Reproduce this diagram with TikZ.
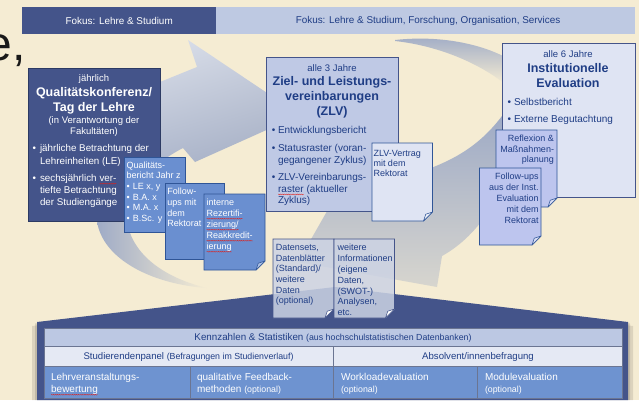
\documentclass[tikz,border=0pt]{standalone}
\usepackage{fontspec}
\setmainfont{Liberation Sans}
\usetikzlibrary{fit,shadings,decorations.pathmorphing}

\definecolor{cream}{HTML}{F5ECD3}
\definecolor{navy}{HTML}{44548A}
\definecolor{navyedge}{HTML}{2C3A63}
\definecolor{headlight}{HTML}{BEC9E2}
\definecolor{midblue}{HTML}{6A8FD0}
\definecolor{midedge}{HTML}{2F5597}
\definecolor{zlvfill}{HTML}{BFC9E5}
\definecolor{palefill}{HTML}{DFE4F3}
\definecolor{peri}{HTML}{BDC5EE}
\definecolor{txtblue}{HTML}{1F3D85}
\definecolor{rowone}{HTML}{BCC8E3}
\definecolor{rowtwo}{HTML}{E5E9F4}
\definecolor{rowthree}{HTML}{6E93D0}
\definecolor{swoosh}{HTML}{9FABC6}
\definecolor{datafill}{HTML}{CCD3E4}
\definecolor{spellred}{HTML}{E0201B}

\newcommand\fsz[2]{\fontsize{#1}{#2}\selectfont}
% word with a red spell-check squiggle below its baseline
\newcommand\spellwave[1]{\tikz[baseline=(sw.base),x=1pt,y=1pt]{%
  \node[inner sep=0pt, outer sep=0pt] (sw) {#1};
  \draw[spellred, line width=0.3pt, decorate,
        decoration={snake, amplitude=0.45pt, segment length=1.9pt}]
    ([yshift=-2.2pt]sw.base west) -- ([yshift=-2.2pt]sw.base east);}}
% card with a folded lower right corner, drawn over an empty fitted node
\newcommand\pagecard[4]{%
  \path[fill=#2, draw=#3, line width=0.7pt]
    (#1.north west) -- (#1.north east) -- ([yshift=#4]#1.south east)
    -- ([xshift=-#4]#1.south east) -- (#1.south west) -- cycle;
  \path[fill=#2!55!white, draw=#3, line width=0.6pt, line join=round]
    ([yshift=#4]#1.south east) -- ([xshift=-#4]#1.south east)
    -- ([xshift=-0.75*#4, yshift=0.75*#4]#1.south east) -- cycle;
}

\begin{document}
\begin{tikzpicture}[x=1pt,y=-1pt,
  txt/.style={inner sep=0pt, outer sep=0pt},
  frame/.style={inner sep=0pt, outer sep=0pt, line width=0.7pt},
  light/.style={txt, text=white},
  blue/.style={txt, text=txtblue},
]
\useasboundingbox (0,0) rectangle (639,400);
\fill[cream] (0,0) rectangle (639,400);

% ---- soft cycle arrows in the background ----
% left arrow: tail below the annual box
\shade[left color=swoosh, right color=cream]
  (97,221) .. controls (102,258) and (150,284) .. (207,288)
  .. controls (165,278) and (132,255) .. (127,221) -- cycle;
% left arrow: shaft and head pointing at the ZLV box
\shade[upper left=swoosh!30!white, upper right=swoosh!55!white,
       lower left=swoosh, lower right=swoosh!90!black]
  (100,221) .. controls (90,160) and (115,100) .. (160,82) -- (197,67) -- (188,40)
  -- (300,115) -- (195,162) -- (183,148) .. controls (150,165) and (130,190) .. (127,221) -- cycle;
% top arrow towards the institutional evaluation
\shade[top color=swoosh, bottom color=cream]
  (395,40) .. controls (440,35) and (480,44) .. (505,57) -- (505,84)
  .. controls (480,64) and (440,46) .. (395,41) -- cycle;
% right arrow coming down towards the data sources
\shade[top color=swoosh, bottom color=swoosh!35!cream]
  (502,116) .. controls (480,145) and (455,160) .. (420,172)
  -- (372,190) -- (338,192) -- (298,262) -- (437,287) -- (442,256)
  .. controls (480,235) and (508,190) .. (515,140) -- cycle;

% ---- slide title fragment ----
\node[txt, anchor=base east, font=\fsz{48}{50}, text=black!90] (slidetitle) at (26,60.5) {e,};

% ---- header band ----
\node[frame, fill=navy, fit={(22.4,7) (216,34)}] (focusL) {};
\node[frame, fill=headlight, fit={(216,7) (635,34)}] (focusR) {};
\node[light, font=\fsz{9.9}{12}] (focusLt) at (119.2,21) {Fokus: Lehre \& Studium};
\node[blue, font=\fsz{9.9}{12}] (focusRt) at (428,21) {Fokus: Lehre \& Studium, Forschung, Organisation, Services};

% ---- platform with data table ----
\fill[black, opacity=0.10] (32,326) -- (333,289) -- (633,326) -- (633,400) -- (32,400) -- cycle;
\fill[black, opacity=0.12] (35,323.5) -- (334,288) -- (630,323.5) -- (630,400) -- (35,400) -- cycle;
\path[fill=navy] (37,322) -- (335,287) -- (628,322) -- (628,400) -- (37,400) -- cycle;
\node[frame, fill=rowone, draw=navyedge!70, fit={(44,328) (622,346)}] (kpi) {};
\node[frame, fill=rowtwo, draw=navyedge!70, fit={(44,346) (333,366)}] (panel) {};
\node[frame, fill=rowtwo, draw=navyedge!70, fit={(333,346) (622,366)}] (alumni) {};
\node[frame, fill=rowthree, draw=navyedge!70, fit={(44,366) (190,398)}] (lvb) {};
\node[frame, fill=rowthree, draw=navyedge!70, fit={(190,366) (333,398)}] (qfb) {};
\node[frame, fill=rowthree, draw=navyedge!70, fit={(333,366) (477,398)}] (wle) {};
\node[frame, fill=rowthree, draw=navyedge!70, fit={(477,366) (622,398)}] (mde) {};
\node[blue, anchor=base] (kpit) at (333,340.5) {\fsz{9.8}{12}Kennzahlen \& Statistiken \fsz{8.8}{12}(aus hochschulstatistischen Datenbanken)};
\node[blue, anchor=base] (panelt) at (188.5,359.5) {\fsz{9.6}{12}Studierendenpanel \fsz{8.8}{12}(Befragungen im Studienverlauf)};
\node[blue, anchor=base] (alumnit) at (478,359.5) {\fsz{9.6}{12}Absolvent/innenbefragung};
\node[light, anchor=north west, font=\fsz{10}{12}] (lvbt) at (51,372.1)
  {\begin{tabular}{@{}l@{}}Lehrveranstaltungs-\\\spellwave{bewertung}\end{tabular}};
\node[light, anchor=north west, font=\fsz{10}{12}] (qfbt) at (197,372.1)
  {\begin{tabular}{@{}l@{}}qualitative Feedback-\\methoden {\fsz{8.8}{12}(optional)}\end{tabular}};
\node[light, anchor=north west, font=\fsz{10}{12}] (wlet) at (341,372.1)
  {\begin{tabular}{@{}l@{}}Workloadevaluation\\{\fsz{8.8}{12}(optional)}\end{tabular}};
\node[light, anchor=north west, font=\fsz{10}{12}] (mdet) at (485,372.1)
  {\begin{tabular}{@{}l@{}}Modulevaluation\\{\fsz{8.8}{12}(optional)}\end{tabular}};

% ---- data sources on the platform ----
\node[frame, fit={(273,239) (334,318)}] (sets) {};
\path[fill=datafill, fill opacity=0.85, draw=navy, line width=0.7pt]
  (sets.north west) -- (sets.north east) -- ([yshift=9pt]sets.south east)
  -- ([xshift=-9pt]sets.south east) -- (sets.south west) -- cycle;
\path[fill=white, draw=navy, line width=0.6pt] ([yshift=9pt]sets.south east) -- ([xshift=-9pt]sets.south east) -- ([xshift=-6.75pt, yshift=6.75pt]sets.south east) -- cycle;
\node[frame, fit={(334,239) (394.5,318)}] (more) {};
\path[fill=datafill, fill opacity=0.85, draw=navy, line width=0.7pt]
  (more.north west) -- (more.north east) -- ([yshift=9pt]more.south east)
  -- ([xshift=-9pt]more.south east) -- (more.south west) -- cycle;
\path[fill=white, draw=navy, line width=0.6pt] ([yshift=9pt]more.south east) -- ([xshift=-9pt]more.south east) -- ([xshift=-6.75pt, yshift=6.75pt]more.south east) -- cycle;
\node[blue, anchor=north west, font=\fsz{9}{10.7}] (setst) at (275.9,243)
  {\begin{tabular}{@{}l@{}}Datensets,\\Datenblätter\\(Standard)/\\weitere\\Daten\\(optional)\end{tabular}};
\node[blue, anchor=north west, font=\fsz{9}{10.8}] (moret) at (337.5,243.3)
  {\begin{tabular}{@{}l@{}}weitere\\Informationen\\(eigene\\Daten,\\(SWOT-)\\Analysen,\\etc.\end{tabular}};

% ---- annual quality conference ----
\node[frame, fill=navy, draw=navyedge, line width=1pt, fit={(28,68) (160,221)}] (qk) {};
\node[light, anchor=base, font=\fsz{9.5}{11}] (qkfreq) at (94,81.5) {jährlich};
\node[light, anchor=north, font=\fsz{12.5}{15}\bfseries] (qktitle) at (94,86)
  {\begin{tabular}{@{}c@{}}Qualitätskonferenz/\\Tag der Lehre\end{tabular}};
\node[light, anchor=north, font=\fsz{9.5}{11}] (qksub) at (94,115.8)
  {\begin{tabular}{@{}c@{}}(in Verantwortung der\\Fakultäten)\end{tabular}};
\node[light, anchor=north west, font=\fsz{9.8}{13}] (qkb1) at (32.7,142.4)
  {\begin{tabular}{@{}l@{\hspace{3.9pt}}l@{}}•&jährliche Betrachtung der\\&Lehreinheiten (LE)\end{tabular}};
\node[light, anchor=north west, font=\fsz{9.8}{12}] (qkb2) at (32.7,173.1)
  {\begin{tabular}{@{}l@{\hspace{3.9pt}}l@{}}•&sechsjährlich \spellwave{ver-}\\&tiefte Betrachtung\\&der Studiengänge\end{tabular}};

% ---- quality report and follow-ups ----
\node[frame, fill=midblue, draw=midedge, fit={(124,157) (185.5,232)}] (qb) {};
\node[light, anchor=north west, font=\fsz{9}{10.6}] (qbt) at (126.5,160.8)
  {\begin{tabular}{@{}l@{\hspace{3.3pt}}l@{}}\multicolumn{2}{@{}l@{}}{Qualitäts-}\\\multicolumn{2}{@{}l@{}}{bericht Jahr z}\\•&LE x, y\\•&B.A. x\\•&M.A. x\\•&B.Sc. y\end{tabular}};
\node[frame, fill=midblue, draw=midedge, fit={(165,183) (224,259)}] (fu) {};
\node[light, anchor=north west, font=\fsz{9}{10.7}] (fut) at (167.3,187.4)
  {\begin{tabular}{@{}l@{}}Follow-\\ups mit\\dem\\Rektorat\end{tabular}};
\node[frame, fit={(204,194) (265,270)}] (ir) {};
\pagecard{ir}{midblue}{midedge}{9pt}
\node[light, anchor=north west, font=\fsz{9}{11}] (irt) at (206.5,197.8)
  {\begin{tabular}{@{}l@{}}interne\\\spellwave{Rezertifi-}\\\spellwave{zierung/}\\\spellwave{Reakkredit-}\\\spellwave{ierung}\end{tabular}};

% ---- target and performance agreements ----
\node[frame, fill=zlvfill, draw=navy, fit={(266,57) (398.5,211)}] (zlv) {};
\node[blue, anchor=base, font=\fsz{9.5}{11}] (zlvfreq) at (332,71.3) {alle 3 Jahre};
\node[blue, anchor=north, font=\fsz{12.5}{15}\bfseries] (zlvtitle) at (332,75)
  {\begin{tabular}{@{}c@{}}Ziel- und Leistungs-\\vereinbarungen\\(ZLV)\end{tabular}};
\node[blue, anchor=north west, font=\fsz{10}{12}] (zlvb1) at (271.8,125.1)
  {\begin{tabular}{@{}l@{\hspace{2.7pt}}l@{}}•&Entwicklungsbericht\end{tabular}};
\node[blue, anchor=north west, font=\fsz{10}{12}] (zlvb2) at (271.8,142.6)
  {\begin{tabular}{@{}l@{\hspace{2.7pt}}l@{}}•&Statusraster (voran-\\&gegangener Zyklus)\end{tabular}};
\node[blue, anchor=north west, font=\fsz{10}{11.7}] (zlvb3) at (271.8,172.3)
  {\begin{tabular}{@{}l@{\hspace{2.7pt}}l@{}}•&ZLV-Vereinbarungs-\\&\spellwave{raster} (aktueller\\&Zyklus)\end{tabular}};
\node[frame, fit={(372,143) (432.5,221)}] (zv) {};
\pagecard{zv}{palefill}{midedge}{9pt}
\node[blue, anchor=north west, font=\fsz{9}{10.3}] (zvt) at (373.5,149)
  {\begin{tabular}{@{}l@{}}ZLV-Vertrag\\mit dem\\Rektorat\end{tabular}};

% ---- institutional evaluation ----
\node[frame, fill=palefill, draw=navy, fit={(502,43) (635,197)}] (ie) {};
\node[blue, anchor=base, font=\fsz{9.5}{11}] (iefreq) at (568,57.5) {alle 6 Jahre};
\node[blue, anchor=north, font=\fsz{12.5}{15}\bfseries] (ietitle) at (568,62)
  {\begin{tabular}{@{}c@{}}Institutionelle\\Evaluation\end{tabular}};
\node[blue, anchor=north west, font=\fsz{10}{12}] (ieb1) at (507.5,96.6)
  {\begin{tabular}{@{}l@{\hspace{3pt}}l@{}}•&Selbstbericht\end{tabular}};
\node[blue, anchor=north west, font=\fsz{10}{12}] (ieb2) at (507.5,114.1)
  {\begin{tabular}{@{}l@{\hspace{3pt}}l@{}}•&Externe Begutachtung\end{tabular}};
\node[frame, fit={(496,130) (557,207)}] (rf) {};
\pagecard{rf}{peri}{midedge}{9pt}
\node[blue, anchor=north east, font=\fsz{9}{10.5}] (rft) at (554,134.2)
  {\begin{tabular}{@{}r@{}}Reflexion \&\\Maßnahmen-\\planung\end{tabular}};
\node[frame, fit={(479.5,168) (541,245)}] (fi) {};
\pagecard{fi}{peri}{midedge}{9pt}
\node[blue, anchor=north east, font=\fsz{9}{10.8}] (fit) at (538.7,172.3)
  {\begin{tabular}{@{}r@{}}Follow-ups\\aus der Inst.\\Evaluation\\mit dem\\Rektorat\end{tabular}};
\end{tikzpicture}
\end{document}
